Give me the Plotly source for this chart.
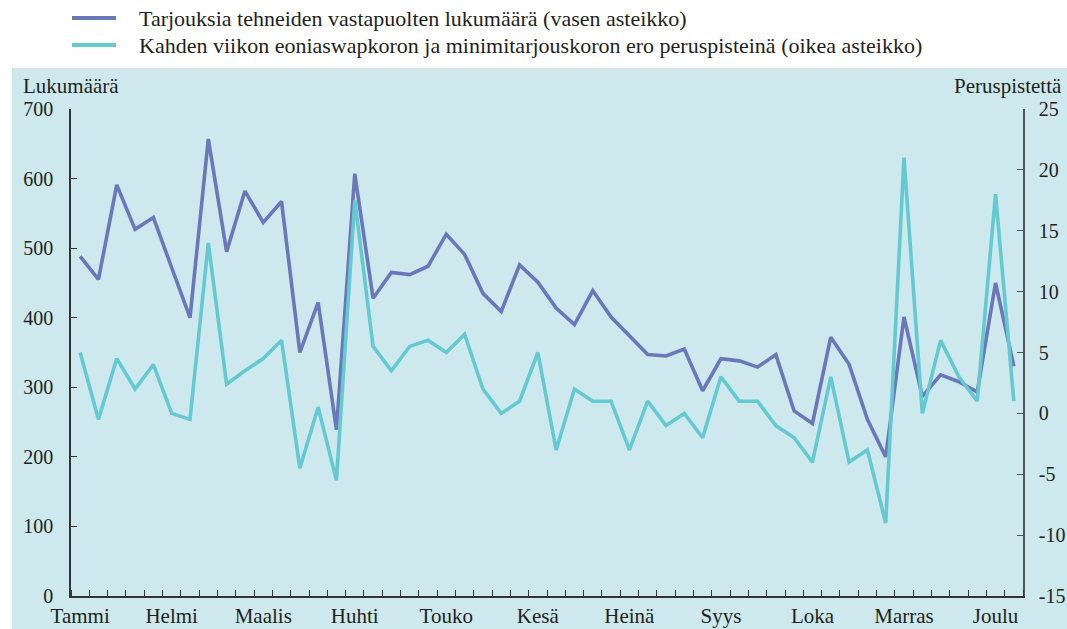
import plotly.graph_objects as go

# Weekly observations (52 weeks)
counterparties = [
    488, 455, 591, 527, 544, 471, 400, 657, 495, 582,
    537, 567, 350, 422, 239, 607, 428, 465, 462, 474,
    520, 491, 435, 409, 476, 451, 414, 390, 439, 401,
    374, 347, 345, 355, 295, 341, 338, 329, 347, 266,
    248, 372, 333, 254, 200, 401, 287, 318, 308, 293,
    450, 330,
]
spread_bp = [
    5.0, -0.5, 4.5, 2.0, 4.0, 0.0, -0.5, 14.0, 2.4, 3.5,
    4.5, 6.0, -4.5, 0.5, -5.5, 17.5, 5.5, 3.5, 5.5, 6.0,
    5.0, 6.5, 2.0, 0.0, 1.0, 5.0, -3.0, 2.0, 1.0, 1.0,
    -3.0, 1.0, -1.0, 0.0, -2.0, 3.0, 1.0, 1.0, -1.0, -2.0,
    -4.0, 3.0, -4.0, -3.0, -9.0, 21.0, 0.0, 6.0, 3.0, 1.0,
    18.0, 1.0,
]
month_labels = ["Tammi", "Helmi", "Maalis", "Huhti", "Touko", "Kesä",
                "Heinä", "Syys", "Loka", "Marras", "Joulu"]
left_ticks = [0, 100, 200, 300, 400, 500, 600, 700]
right_ticks = [-15, -10, -5, 0, 5, 10, 15, 20, 25]

series_names = [
    "Tarjouksia tehneiden vastapuolten lukumäärä (vasen asteikko)",
    "Kahden viikon eoniaswapkoron ja minimitarjouskoron ero peruspisteinä (oikea asteikko)",
]

DARK = "#6b77b9"
LIGHT = "#64c9d1"
BG = "#cde9ed"
TXT = "#231f20"
FONT = "Liberation Serif"
TICK_SIZE = 20

W, H = 1067, 629
L, R, T, B = 71, 44, 109, 33
pw, ph = W - L - R, H - T - B


def px_x(x):
    return (x - L) / pw


def px_y(y):
    return (H - B - y) / ph


weeks = [i + 0.5 for i in range(len(counterparties))]

fig = go.Figure()
fig.add_trace(go.Scatter(x=weeks, y=counterparties, mode="lines",
                         line=dict(color=DARK, width=3.6), yaxis="y",
                         name=series_names[0], showlegend=False))
fig.add_trace(go.Scatter(x=weeks, y=spread_bp, mode="lines",
                         line=dict(color=LIGHT, width=3.6), yaxis="y2",
                         name=series_names[1], showlegend=False))

shapes = [
    # shaded chart panel
    dict(type="rect", xref="paper", yref="paper", layer="below",
         x0=px_x(12), x1=px_x(W + 5), y0=px_y(H + 5), y1=px_y(68),
         fillcolor=BG, line=dict(width=0)),
]
annotations = []
for k, (name, col) in enumerate(zip(series_names, [DARK, LIGHT])):
    ly = 18 + 27 * k
    shapes.append(dict(type="line", xref="paper", yref="paper",
                       x0=px_x(72), x1=px_x(116), y0=px_y(ly), y1=px_y(ly),
                       line=dict(color=col, width=4)))
    annotations.append(dict(text=name, xref="paper", yref="paper",
                            x=px_x(137), y=px_y(ly), xanchor="left", yanchor="middle",
                            showarrow=False, font=dict(family=FONT, size=22, color=TXT)))

annotations.append(dict(text="Lukumäärä", xref="paper", yref="paper",
                        x=px_x(21), y=px_y(86), xanchor="left", yanchor="middle",
                        showarrow=False, font=dict(family=FONT, size=21, color=TXT)))
annotations.append(dict(text="Peruspistettä", xref="paper", yref="paper",
                        x=px_x(1064), y=px_y(86), xanchor="right", yanchor="middle",
                        showarrow=False, font=dict(family=FONT, size=21, color=TXT)))

fig.update_layout(
    width=W, height=H,
    margin=dict(l=L, r=R, t=T, b=B),
    paper_bgcolor="white",
    plot_bgcolor=BG,
    showlegend=False,
    font=dict(family=FONT, size=TICK_SIZE, color=TXT),
    shapes=shapes,
    annotations=annotations,
    xaxis=dict(
        range=[0, len(counterparties)],
        tickvals=[weeks[i] for i in range(0, 55, 5)],
        ticktext=month_labels,
        tickfont=dict(size=21),
        ticks="", showgrid=False, zeroline=False, automargin=False,
        showline=True, linecolor="#333333", linewidth=1.5,
        ticklabelstandoff=0,
        minor=dict(dtick=1, tick0=0, ticks="inside", ticklen=6,
                   tickcolor="#333333", tickwidth=1.2, showgrid=False),
    ),
    yaxis=dict(
        range=[0, 700], tickvals=left_ticks,
        ticktext=[str(v) for v in left_ticks],
        ticks="inside", ticklen=6, tickcolor="#333333", tickwidth=1.2,
        showline=True, linecolor="#333333", linewidth=1.5, automargin=False,
        showgrid=False, zeroline=False, ticklabelstandoff=12,
    ),
    yaxis2=dict(
        range=[-15, 25], tickvals=right_ticks,
        ticktext=[str(v) for v in right_ticks],
        overlaying="y", side="right", anchor="x", automargin=False,
        ticks="inside", ticklen=6, tickcolor="#555555", tickwidth=1.2,
        showline=True, linecolor="#555555", linewidth=1.5,
        showgrid=False, zeroline=False, ticklabelstandoff=10,
    ),
)

fig.write_html("out.html")
